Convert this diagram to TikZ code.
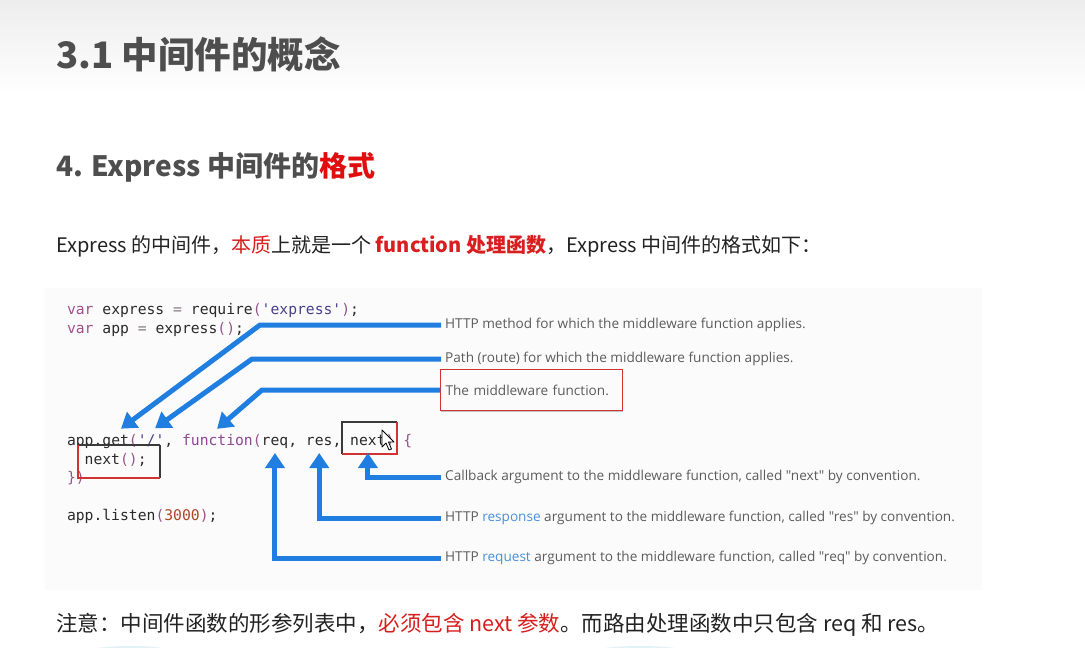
\documentclass[tikz,border=0pt]{standalone}
\usepackage{fontspec}
\setmainfont{Noto Sans CJK SC}
\setmonofont{DejaVu Sans Mono}
\newfontfamily\notefont{Open Sans}
\usetikzlibrary{arrows.meta,calc,shadows}

\definecolor{titlegrey}{HTML}{4E4E4E}
\definecolor{bodytext}{HTML}{222222}
\definecolor{hred}{HTML}{E00E0E}
\definecolor{pred}{HTML}{D81E1E}
\definecolor{panel}{HTML}{FBFBFB}
\definecolor{ident}{HTML}{2A2A2A}
\definecolor{kw}{RGB}{160,80,140}
\definecolor{op}{RGB}{130,120,130}
\definecolor{pn}{RGB}{150,85,140}
\definecolor{str}{RGB}{72,64,140}
\definecolor{fnc}{RGB}{145,70,150}
\definecolor{num}{RGB}{175,70,40}
\definecolor{notegrey}{HTML}{5C5C5C}
\definecolor{noteblue}{HTML}{4A90D9}
\definecolor{arrowblue}{HTML}{1F7EDF}
\definecolor{boxred}{HTML}{D23232}
\definecolor{boxdark}{HTML}{3A3A3A}
\definecolor{blob}{HTML}{E2F0F9}

% one blank character width in the code font
\newcommand{\codegap}{\phantom{x}}

\begin{document}
\begin{tikzpicture}[x=1pt,y=-1pt,
  code/.style={font=\ttfamily\fontsize{14.7}{14.7}\selectfont, text=ident,
    inner sep=0pt, outer sep=0pt, anchor=base west},
  note/.style={font=\notefont\fontsize{13.6}{13.6}\selectfont, text=notegrey,
    inner xsep=4pt, inner ysep=0pt, anchor=west},
  pointer/.style={draw=arrowblue, line width=5pt, line join=miter,
    -{Triangle[length=15pt,width=19pt]}},
  heading/.style={inner sep=0pt, anchor=base west}]

\useasboundingbox (0,0) rectangle (1085,648);
\fill[white] (0,0) rectangle (1085,648);
\shade[top color=gray!14, bottom color=white] (0,0) rectangle (1085,95);

% page headings and paragraph
\node[heading, font=\fontsize{36.5}{36.5}\selectfont\bfseries, text=titlegrey]
  (title) at (56,68) {3.1 中间件的概念};
\node[heading, font=\fontsize{28}{28}\selectfont\bfseries, text=titlegrey]
  (sub) at (56,176) {4. Express 中间件的\textcolor{hred}{格式}};
\node[heading, font=\fontsize{20}{20}\selectfont, text=bodytext]
  (intro) at (56,252) {Express 的中间件，\textcolor{pred}{本质}上就是一个 \textcolor{pred}{\bfseries function 处理函数}，Express 中间件的格式如下：};

% code panel
\fill[panel] (45,288) rectangle (982,590);
\fill[blob] (130,666) ellipse [x radius=75pt, y radius=20pt];
\fill[blob] (640,668) ellipse [x radius=85pt, y radius=22pt];

\node[code] (l1) at (67,314) {\textcolor{kw}{var} express \textcolor{op}{=} require\textcolor{pn}{(}\textcolor{str}{'express'}\textcolor{pn}{)};};
\node[code] (l2) at (67,333) {\textcolor{kw}{var} app \textcolor{op}{=} express\textcolor{pn}{()};};

\node[code] (c0) at (67,445) {app.};
\node[code] (get) at (c0.base east) {get};
\node[code] (c1) at (get.base east) {\textcolor{pn}{(}};
\node[code] (path) at (c1.base east) {\textcolor{str}{'/'}};
\node[code] (c2) at (path.base east) {,\codegap};
\node[code] (fn) at (c2.base east) {\textcolor{fnc}{function}};
\node[code] (c3) at (fn.base east) {\textcolor{pn}{(}};
\node[code] (req) at (c3.base east) {req};
\node[code] (c4) at (req.base east) {,\codegap};
\node[code] (res) at (c4.base east) {res};
\node[code] (c5) at (res.base east) {,\codegap};
\node[code] (nxt) at (c5.base east) {next};
\node[code] (c6) at (nxt.base east) {\textcolor{pn}{)}\codegap\textcolor{pn}{\{}};

\node[code] (l4) at (84.7,464) {next\textcolor{pn}{()};};
\node[code] (l5) at (67,482) {\textcolor{pn}{\})}};
\node[code] (l6) at (67,520) {app.listen\textcolor{pn}{(}\textcolor{num}{3000}\textcolor{pn}{)};};

% highlight boxes around next
\draw[boxdark, line width=1.1pt] (342,454) |- (397,422);
\draw[boxred, line width=1.1pt] (397,422) |- (342,454);
\draw[boxdark, line width=1.1pt] (160,445) |- (78,445) (160,445) -- (160,478);
\draw[boxred, line width=1.1pt] (78,445) |- (160,478);

% mouse pointer
\draw[draw=black, fill=white, line width=0.8pt, line join=round]
  (382,430) -- ++(0,17) -- ++(4,-4) -- ++(3,7) -- ++(2.5,-1)
  -- ++(-3,-7) -- ++(5.5,0) -- cycle;

% annotations
\node[note] (n1) at (441,325) {HTTP method for which the middleware function applies.};
\node[note] (n2) at (441,359) {Path (route) for which the middleware function applies.};
\node[note, draw=boxred, line width=1pt, fill=panel, text width=172pt,
  inner xsep=5pt, minimum height=41pt,
  drop shadow={opacity=0.45, shadow xshift=0pt, shadow yshift=-1.5pt}]
  (mw) at (440,390) {The middleware function.};
\node[note] (n4) at (441,477) {Callback argument to the middleware function, called "next" by convention.};
\node[note] (n5) at (441,518) {HTTP \textcolor{noteblue}{response} argument to the middleware function, called "res" by convention.};
\node[note] (n6) at (441,558) {HTTP \textcolor{noteblue}{request} argument to the middleware function, called "req" by convention.};

% pointers from annotations to the code
\coordinate (tips) at (0,453);
\draw[pointer] (n1.west) -- ++(-181,0) -- ($(get.north east)+(-8,-6)$);
\draw[pointer] (n2.west) -- ++(-189,0) -- ($(path.north)+(4,-6)$);
\draw[pointer] (mw.west) -- ++(-178,0) -- ($(fn.north west)+(35,-5)$);
\draw[pointer] (n4.west) -| (nxt.south |- tips);
\draw[pointer] (n5.west) -| (res.south |- tips);
\draw[pointer] (n6.west) -| (req.south |- tips);

% closing note
\node[heading, font=\fontsize{21.5}{21.5}\selectfont, text=bodytext]
  (remark) at (56,631) {注意：中间件函数的形参列表中，\textcolor{pred}{必须包含 next 参数}。而路由处理函数中只包含 req 和 res。};
\end{tikzpicture}
\end{document}
